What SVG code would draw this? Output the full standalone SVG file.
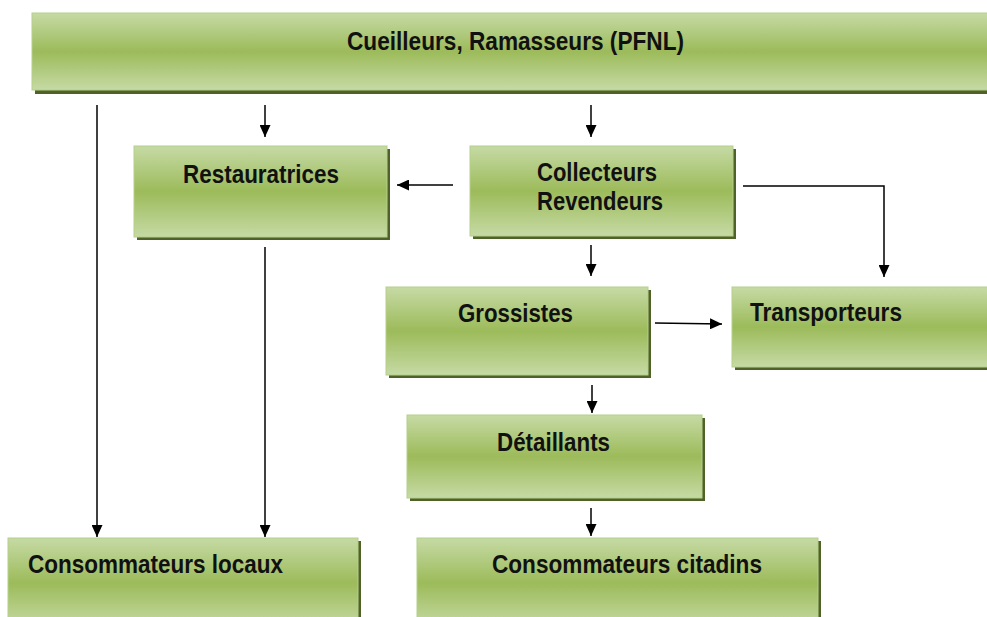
<svg xmlns="http://www.w3.org/2000/svg" width="987" height="617" viewBox="0 0 987 617">
<defs>
<linearGradient id="g" x1="0" y1="0" x2="0" y2="1">
<stop offset="0" stop-color="#c6daa5"/>
<stop offset="0.5" stop-color="#9cbb5a"/>
<stop offset="1" stop-color="#c6daa5"/>
</linearGradient>
<marker id="ah" markerUnits="userSpaceOnUse" markerWidth="13" markerHeight="11" refX="12" refY="5.5" orient="auto">
<path d="M0,0 L12,5.5 L0,11 z" fill="#000"/>
</marker>
</defs>
<style>
.sh{fill:#4f6228;}
.bx{fill:url(#g);stroke:#b5cf8a;stroke-width:1;}
.t{font-family:"Liberation Sans",Arial,sans-serif;font-weight:bold;font-size:26.5px;fill:#111;}
.c{stroke:#000;stroke-width:1.5;fill:none;marker-end:url(#ah);}
</style>
<rect width="987" height="617" fill="#fff"/>
<g id="cueilleurs">
<rect class="sh" x="35" y="16" width="960" height="78"/>
<rect class="bx" x="32" y="13" width="960" height="77"/>
<text class="t" x="347" y="50" textLength="337" lengthAdjust="spacingAndGlyphs">Cueilleurs, Ramasseurs (PFNL)</text>
</g>
<g id="restauratrices">
<rect class="sh" x="137" y="149" width="253" height="91"/>
<rect class="bx" x="134" y="146" width="253" height="91"/>
<text class="t" x="183" y="183" textLength="156" lengthAdjust="spacingAndGlyphs">Restauratrices</text>
</g>
<g id="collecteurs">
<rect class="sh" x="473" y="149" width="263" height="90"/>
<rect class="bx" x="470" y="146" width="263" height="90"/>
<text class="t" x="537" y="181" textLength="120" lengthAdjust="spacingAndGlyphs">Collecteurs</text>
<text class="t" x="537" y="210" textLength="126" lengthAdjust="spacingAndGlyphs">Revendeurs</text>
</g>
<g id="grossistes">
<rect class="sh" x="389" y="290" width="262" height="88"/>
<rect class="bx" x="386" y="287" width="262" height="88"/>
<text class="t" x="458" y="322" textLength="115" lengthAdjust="spacingAndGlyphs">Grossistes</text>
</g>
<g id="transporteurs">
<rect class="sh" x="735" y="290" width="260" height="80"/>
<rect class="bx" x="732" y="287" width="260" height="80"/>
<text class="t" x="750" y="321" textLength="152" lengthAdjust="spacingAndGlyphs">Transporteurs</text>
</g>
<g id="detaillants">
<rect class="sh" x="410" y="418" width="295" height="83"/>
<rect class="bx" x="407" y="415" width="295" height="83"/>
<text class="t" x="497" y="451" textLength="113" lengthAdjust="spacingAndGlyphs">Détaillants</text>
</g>
<g id="consommateurs-locaux">
<rect class="sh" x="11" y="541" width="350" height="90"/>
<rect class="bx" x="8" y="538" width="350" height="90"/>
<text class="t" x="28" y="573" textLength="255" lengthAdjust="spacingAndGlyphs">Consommateurs locaux</text>
</g>
<g id="consommateurs-citadins">
<rect class="sh" x="420" y="541" width="401" height="90"/>
<rect class="bx" x="417" y="538" width="401" height="90"/>
<text class="t" x="492" y="573" textLength="270" lengthAdjust="spacingAndGlyphs">Consommateurs citadins</text>
</g>
<g id="connectors">
<path class="c" d="M97,105 L97,537"/>
<path class="c" d="M265,105 L265,137"/>
<path class="c" d="M591,105 L591,137"/>
<path class="c" d="M265,247 L265,537"/>
<path class="c" d="M453,185 L397,185"/>
<path class="c" d="M743,186 L884,186 L884,277"/>
<path class="c" d="M591,245 L591,276"/>
<path class="c" d="M655,323 L722,324"/>
<path class="c" d="M592,385 L592,413"/>
<path class="c" d="M591,508 L591,536"/>
</g>
</svg>
